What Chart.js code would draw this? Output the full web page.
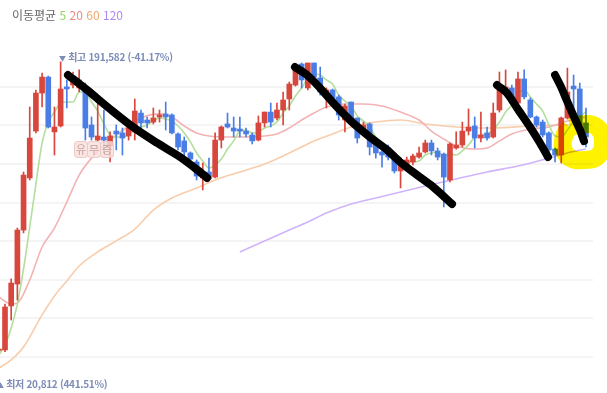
<!DOCTYPE html>
<html lang="ko">
<head>
  <meta charset="UTF-8" />
  <title>이동평균 차트</title>
  <style>
    body {
      margin: 0;
      background: #fff;
      font-family: "Noto Sans CJK KR", "Noto Sans", sans-serif;
    }
    #wrap {
      position: relative;
      width: 607px;
      height: 393px;
      overflow: hidden;
    }
    canvas {
      position: absolute;
      left: 0;
      top: 0;
    }
    .legenda {
      position: absolute;
      left: 12px;
      top: 7px;
      font-size: 12px;
      line-height: 16px;
      color: #666;
      white-space: nowrap;
    }
    .marca {
      position: absolute;
      font-size: 10px;
      font-weight: 700;
      letter-spacing: -0.3px;
      line-height: 13px;
      color: #7d8db8;
      white-space: nowrap;
    }
    .marca small {
      font-size: 7px;
    }
    .selos {
      position: absolute;
      left: 74px;
      top: 141px;
      display: flex;
    }
    .selos span {
      display: block;
      width: 12px;
      height: 15px;
      margin-right: -1px;
      font-size: 11px;
      line-height: 15px;
      text-align: center;
      color: #c9a09b;
      background: rgba(247, 224, 221, 0.8);
      border: 1px solid rgba(232, 196, 192, 0.8);
      border-radius: 4px;
    }
  </style>
</head>
<body>
  <div id="wrap">
    <canvas id="grafico" width="607" height="393"></canvas>
    <div class="legenda">이동평균 <span style="color:#98d16c">5</span> <span style="color:#ef8a8a">20</span> <span style="color:#f2a86e">60</span> <span style="color:#b18bf3">120</span></div>
    <div class="marca" style="left:59px; top:50px;"><small>▼</small> 최고 191,582 (-41.17%)</div>
    <div class="marca" style="left:-3px; top:377px;"><small>▲</small> 최저 20,812 (441.51%)</div>
    <div class="selos"><span>유</span><span>무</span><span>증</span></div>
  </div>

  <script src="https://cdn.jsdelivr.net/npm/chart.js"></script>
  <script>
    // candles (won), index 0 is the one cut at the left edge
    const opens = [
      21600, 21900, 47800, 60700, 92500, 123200, 150800, 173200, 182600, 150300,
      153800, 176800, 177900, 176200, 176800, 154400, 145500, 147300, 142000, 150800,
      149700, 147900, 150300, 161400, 157300, 156100, 159100, 160900, 160300, 149100,
      145000, 137900, 132600, 123200, 126700, 123700, 145500, 155000, 152600, 152000,
      150800, 148500, 145500, 155600, 162000, 158500, 163200, 169700, 177900, 190300,
      176200, 190900, 182100, 172000, 175000, 170900, 157300, 167900, 158500, 151400,
      155000, 142600, 138500, 140800, 134900, 127300, 129600, 132600, 135500, 138500,
      143800, 139100, 137300, 122000, 140800, 142600, 150800, 153800, 146700, 149700,
      147300, 163200, 173800, 176200, 167300, 181500, 169100, 159100, 156100, 149700,
      140200, 136700, 158500, 177300, 175600, 155600
    ];
    const highs = [
      23000, 48900, 63700, 93700, 126700, 165000, 175000, 185000, 183200, 165000,
      191582, 180900, 185600, 186800, 179100, 159100, 169100, 163200, 150300, 154400,
      152600, 154400, 169700, 163200, 159100, 164400, 163200, 167900, 160900, 149700,
      147300, 138500, 133800, 132000, 134900, 149700, 153800, 161400, 159100, 159100,
      152600, 149700, 159700, 162000, 167300, 167300, 173800, 179700, 189700, 190900,
      190900, 190900, 188500, 176200, 175600, 172000, 166700, 167900, 158500, 156100,
      155600, 143800, 139700, 142600, 137900, 133800, 135500, 137300, 141400, 145500,
      145500, 140800, 137900, 143800, 150300, 156100, 163800, 159100, 162000, 153200,
      167300, 185600, 186800, 177900, 185600, 186800, 170300, 159700, 157300, 150300,
      140800, 159100, 187900, 183800, 179100, 164400
    ];
    const lows = [
      21300, 20812, 39500, 51300, 90800, 122000, 149700, 165000, 152600, 136700,
      153200, 164400, 176200, 173800, 145500, 145500, 145000, 137900, 132600, 139700,
      136700, 145500, 145500, 151400, 152600, 155000, 156100, 151400, 149100, 139700,
      135500, 130800, 122000, 116100, 121400, 123200, 140800, 152600, 147300, 147300,
      147300, 143200, 145000, 153200, 153200, 157300, 154400, 163200, 177300, 176200,
      175000, 180900, 172000, 164400, 167900, 157300, 150300, 156100, 143800, 149100,
      136700, 134900, 129600, 133800, 126100, 117300, 127900, 130800, 134900, 137900,
      136700, 133800, 106100, 120800, 140200, 141400, 148500, 140800, 144400, 145500,
      146700, 162000, 170900, 166200, 166200, 169700, 158500, 153200, 147300, 138500,
      132600, 132000, 157900, 162000, 151400, 141400
    ];
    const closes = [
      22400, 47200, 61300, 92500, 124900, 146700, 173200, 182600, 153200, 153200,
      175600, 175600, 183200, 180900, 152600, 147300, 147900, 145500, 147900, 149100,
      146700, 152600, 162600, 155600, 155600, 158500, 160300, 159100, 149700, 141400,
      138500, 134300, 124300, 126700, 122600, 145500, 153200, 153200, 150800, 150800,
      149100, 145000, 155600, 162000, 156100, 163200, 169100, 178500, 189700, 180900,
      190900, 182600, 173800, 175000, 169100, 160300, 165600, 157300, 146700, 154400,
      141400, 137900, 136700, 135500, 127300, 130800, 133800, 136100, 137900, 143800,
      139100, 135500, 123700, 143200, 142600, 150800, 153200, 146700, 148500, 146700,
      161400, 177300, 176800, 167300, 181500, 170900, 159100, 154400, 148500, 139700,
      136700, 158500, 173800, 175600, 154400, 147300
    ];

    // moving averages
    const ma5 = [
      18900, 24800, 34800, 48900, 69600, 94300, 119600, 143800, 156100, 162000,
      167300, 167900, 167900, 173800, 173800, 167900, 162600, 155000, 148500, 147300,
      147300, 148500, 152000, 153200, 154400, 156700, 158500, 157900, 156700, 153800,
      149700, 144400, 137900, 133200, 129000, 130800, 134300, 140200, 145000, 150800,
      151400, 149700, 150300, 152600, 153800, 156100, 161400, 165600, 171500, 176200,
      182100, 184400, 183800, 180900, 178500, 172000, 168500, 165600, 159700, 156700,
      153200, 147300, 143200, 141400, 135500, 133800, 132600, 132600, 133200, 136700,
      137900, 138500, 136100, 137300, 136700, 139100, 142600, 147300, 148500, 149100,
      151400, 156100, 162000, 166200, 172600, 175000, 170900, 166700, 162600, 154400,
      147900, 147300, 151400, 156700, 159700, 162000
    ];
    const ma20Idx = [0, 2, 3, 5, 7, 9, 11, 13, 15, 18, 21, 23, 26, 28, 30, 32, 34, 37, 40, 43,
      45, 47, 49, 51, 53, 56, 59, 62, 65, 68, 70, 72, 74, 77, 79, 81, 83, 86, 89, 92, 95];
    const ma20 = [53100, 48900, 49500, 63100, 82500, 93700, 109000, 124900, 134900, 145500,
      153800, 158500, 160900, 159100, 153800, 149700, 147900, 147300, 147300, 147900,
      149100, 152600, 157300, 161400, 165000, 166700, 166700, 165600, 162000, 157300,
      150800, 146100, 142000, 140200, 140800, 145000, 149100, 152000, 153200, 156700, 159100];
    const ma60Idx = [0, 2, 4, 7, 9, 11, 13, 16, 19, 22, 25, 28, 32, 35, 39, 43, 47, 51, 54, 57,
      61, 65, 69, 74, 80, 86, 91, 95];
    const ma60 = [11200, 16000, 23600, 42500, 53700, 62500, 71300, 79600, 86100, 93100,
      104300, 111400, 117300, 122000, 126700, 131400, 137900, 145000, 149100, 153200,
      156100, 157300, 155000, 153200, 152600, 153800, 154400, 155000];
    const ma120Idx = [39, 43, 47, 50, 53, 57, 61, 65, 69, 74, 79, 84, 89, 92, 95];
    const ma120 = [79600, 86100, 92500, 97200, 102500, 107800, 111400, 114900, 118400,
      122600, 126700, 130200, 134900, 137900, 140200];

    // horizontal grid levels
    const gridVals = [176900, 154200, 131500, 108700, 86000, 63300, 40500, 17800];

    // hand drawn marks on top of the chart (x in candle index, y in won)
    const traco1X = [11.19, 14.27, 17.99, 21.71, 25.61, 29.32, 32.55, 33.69];
    const traco1Y = [183800, 175000, 163800, 153200, 143800, 135500, 126700, 123200];
    const traco2X = [47.92, 49.87, 51.97, 54.72, 57.31, 60.06, 62.81, 64.91, 67.67, 70.26, 73.33];
    const traco2Y = [188500, 183800, 176200, 165000, 155600, 147300, 139700, 132600, 124900, 117900, 107800];
    const traco3X = [80.61, 82.23, 83.85, 85.95, 87.57, 88.86];
    const traco3Y = [177900, 173200, 164400, 153200, 143800, 135500];
    const traco4X = [90.0, 90.97, 91.94, 93.23, 94.04, 94.69];
    const traco4Y = [183800, 176800, 168500, 157900, 151400, 144900];
    const amareloX = [92.42, 94.85, 96.95, 97.76, 96.95, 94.85, 92.42, 91.29, 91.61, 92.42];
    const amareloY = [153200, 155000, 152600, 144400, 136100, 133800, 134900, 141400, 149100, 153200];

    const VERMELHO = "#d8473d";
    const AZUL = "#4a7ee6";

    const cores = opens.map((o, i) => closes[i] >= o ? VERMELHO : AZUL);
    const pavios = lows.map((l, i) => ({ x: i, y: [l, highs[i]] }));
    const corpos = opens.map((o, i) => ({ x: i, y: [o, closes[i]] }));
    const pontos = (xs, ys) => xs.map((x, i) => ({ x: x, y: ys[i] }));

    function linhaMedia(data, cor) {
      return {
        type: "line", data: data, borderColor: cor, borderWidth: 1.6,
        pointRadius: 0, cubicInterpolationMode: "monotone", order: 4
      };
    }

    function traco(data) {
      return {
        type: "line", data: data, borderColor: "#000", borderWidth: 8,
        borderCapStyle: "round", borderJoinStyle: "round", tension: 0.3,
        pointRadius: 0, clip: false, order: 1
      };
    }

    // highlighter: multiply so the candle below shows through
    const marcaTexto = {
      id: "marcaTexto",
      beforeDatasetDraw(chart, args) {
        if (chart.data.datasets[args.index].marcador) {
          chart.ctx.save();
          chart.ctx.globalCompositeOperation = "multiply";
        }
      },
      afterDatasetDraw(chart, args) {
        if (chart.data.datasets[args.index].marcador) chart.ctx.restore();
      }
    };

    new Chart(document.getElementById("grafico"), {
      type: "bar",
      data: {
        datasets: [
          linhaMedia(ma5.map((v, i) => ({ x: i, y: v })), "#b3de9c"),
          linhaMedia(pontos(ma20Idx, ma20), "#f4b3b3"),
          linhaMedia(pontos(ma60Idx, ma60), "#f8cdac"),
          linhaMedia(pontos(ma120Idx, ma120), "#d0b4fa"),
          { type: "bar", data: pavios, backgroundColor: cores, barThickness: 1, grouped: false, order: 3 },
          { type: "bar", data: corpos, backgroundColor: cores, barThickness: 5, minBarLength: 1, grouped: false, order: 3 },
          {
            type: "line", data: pontos(amareloX, amareloY), borderColor: "rgb(255,242,0)",
            borderWidth: 18, tension: 0.45, pointRadius: 0, clip: false, order: 2, marcador: true
          },
          traco(pontos(traco1X, traco1Y)),
          traco(pontos(traco2X, traco2Y)),
          traco(pontos(traco3X, traco3Y)),
          traco(pontos(traco4X, traco4Y))
        ]
      },
      options: {
        responsive: false,
        animation: false,
        devicePixelRatio: 1,
        layout: { padding: { left: 0, right: 14, top: 0, bottom: 0 } },
        plugins: { legend: { display: false }, tooltip: { enabled: false } },
        scales: {
          x: { type: "linear", min: 0.19, max: 96.14, offset: false, display: false },
          y: {
            min: -3477, max: 228000,
            grid: { color: "#f4f4f4", lineWidth: 2, drawTicks: false },
            border: { display: false },
            ticks: { display: false },
            afterBuildTicks: s => { s.ticks = gridVals.map(v => ({ value: v })); }
          }
        }
      },
      plugins: [marcaTexto]
    });
  </script>
</body>
</html>
